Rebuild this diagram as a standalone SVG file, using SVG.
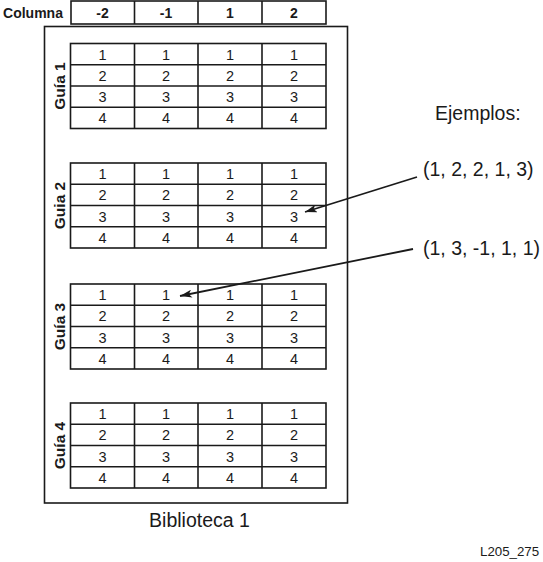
<svg xmlns="http://www.w3.org/2000/svg" width="543" height="562" viewBox="0 0 543 562">
<style>
.ln{fill:none;stroke:#1a1a1a;stroke-width:1.6}
.cell{font-family:"Liberation Sans",Arial,sans-serif;font-size:14.5px;fill:#1a1a1a;text-anchor:middle}
.hd{font-family:"Liberation Sans",Arial,sans-serif;font-size:14px;font-weight:bold;fill:#1a1a1a;text-anchor:middle}
.gl{font-family:"Liberation Sans",Arial,sans-serif;font-size:15.5px;font-weight:bold;fill:#1a1a1a;text-anchor:middle}
.big{font-family:"Liberation Sans",Arial,sans-serif;font-size:19.5px;fill:#1a1a1a}
.conn{fill:none;stroke:#1a1a1a;stroke-width:1.8}
</style>
<defs>
<marker id="ah" viewBox="0 0 12 8" refX="12" refY="4" markerWidth="12" markerHeight="8" markerUnits="userSpaceOnUse" orient="auto">
<path d="M0,0 L12,4 L0,8 L3,4 Z" fill="#1a1a1a"/>
</marker>
<g id="tbl">
<rect class="ln" x="70.5" y="0" width="255.5" height="85"/>
<line class="ln" x1="70.5" y1="21.25" x2="326" y2="21.25"/>
<line class="ln" x1="70.5" y1="42.5" x2="326" y2="42.5"/>
<line class="ln" x1="70.5" y1="63.75" x2="326" y2="63.75"/>
<line class="ln" x1="134.5" y1="0" x2="134.5" y2="85"/>
<line class="ln" x1="198" y1="0" x2="198" y2="85"/>
<line class="ln" x1="262" y1="0" x2="262" y2="85"/>
<g class="cell">
<text x="102.5" y="16">1</text><text x="166" y="16">1</text><text x="230" y="16">1</text><text x="294" y="16">1</text>
<text x="102.5" y="37.3">2</text><text x="166" y="37.3">2</text><text x="230" y="37.3">2</text><text x="294" y="37.3">2</text>
<text x="102.5" y="58.5">3</text><text x="166" y="58.5">3</text><text x="230" y="58.5">3</text><text x="294" y="58.5">3</text>
<text x="102.5" y="79.8">4</text><text x="166" y="79.8">4</text><text x="230" y="79.8">4</text><text x="294" y="79.8">4</text>
</g>
</g>
</defs>

<g id="header">
<text class="hd" x="33" y="18">Columna</text>
<rect class="ln" x="71" y="1" width="255" height="23"/>
<line class="ln" x1="134.5" y1="1" x2="134.5" y2="24"/>
<line class="ln" x1="198" y1="1" x2="198" y2="24"/>
<line class="ln" x1="262" y1="1" x2="262" y2="24"/>
<text class="hd" x="102.5" y="18">-2</text>
<text class="hd" x="166" y="18">-1</text>
<text class="hd" x="230" y="18">1</text>
<text class="hd" x="294" y="18">2</text>
</g>

<g id="biblioteca">
<rect class="ln" x="44.5" y="26.5" width="303" height="476.5"/>
<text class="big" x="199.5" y="527" text-anchor="middle">Biblioteca 1</text>
</g>

<g id="guia1">
<use href="#tbl" x="0" y="43.5"/>
<text class="gl" transform="translate(64.5,86) rotate(-90)">Guía 1</text>
</g>
<g id="guia2">
<use href="#tbl" x="0" y="163"/>
<text class="gl" transform="translate(64.5,205.5) rotate(-90)">Guia 2</text>
</g>
<g id="guia3">
<use href="#tbl" x="0" y="284"/>
<text class="gl" transform="translate(64.5,326.5) rotate(-90)">Guía 3</text>
</g>
<g id="guia4">
<use href="#tbl" x="0" y="403"/>
<text class="gl" transform="translate(64.5,445.5) rotate(-90)">Guía 4</text>
</g>

<g id="ejemplos">
<text class="big" x="435" y="120">Ejemplos:</text>
<text class="big" x="423" y="176">(1, 2, 2, 1, 3)</text>
<text class="big" x="423" y="255">(1, 3, -1, 1, 1)</text>
</g>

<g id="connectors">
<line class="conn" x1="417" y1="177" x2="305" y2="212" marker-end="url(#ah)"/>
<line class="conn" x1="413" y1="249" x2="180" y2="296" marker-end="url(#ah)"/>
</g>

<text id="ref" x="480" y="556" font-family="Liberation Sans, Arial, sans-serif" font-size="13.3" fill="#1a1a1a">L205_275</text>
</svg>
